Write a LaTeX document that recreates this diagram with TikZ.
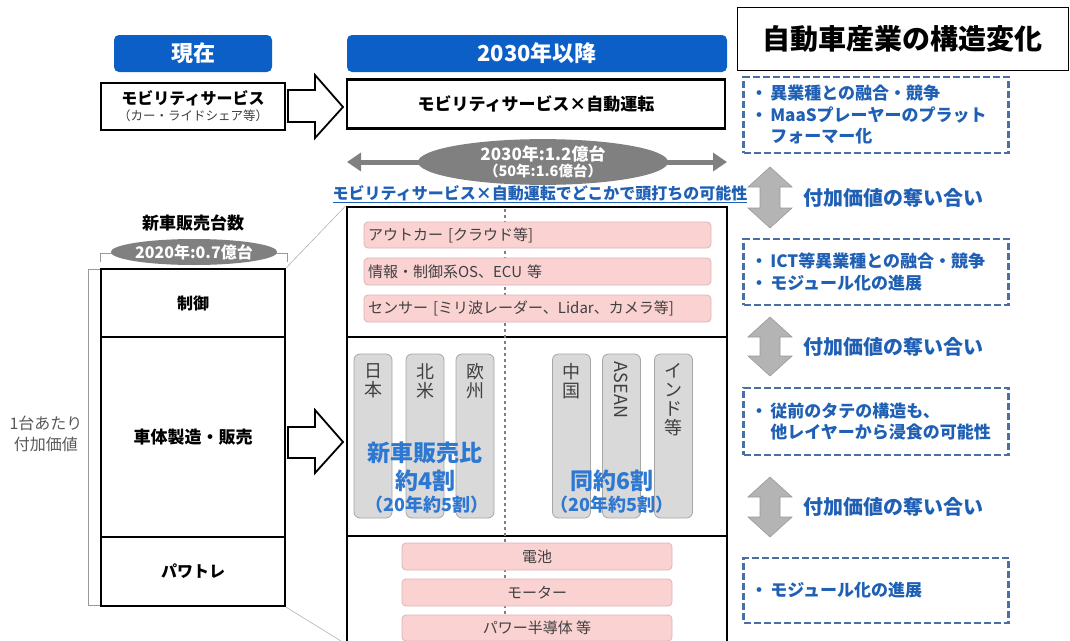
\documentclass[tikz,border=0pt]{standalone}
\usepackage{fontspec}
\setmainfont{Noto Sans CJK JP}
\usetikzlibrary{arrows.meta,shapes.geometric,calc}
\definecolor{hdrblue}{HTML}{0B5FC6}
\definecolor{txtblue}{HTML}{1F5FB4}
\definecolor{brtblue}{HTML}{2E78D2}
\definecolor{dashblue}{HTML}{4A6FA5}
\definecolor{pinkfill}{HTML}{FAD2D2}
\definecolor{pinkline}{HTML}{E0B4B4}
\definecolor{pillfill}{HTML}{D9D9D9}
\definecolor{pillline}{HTML}{A6A6A6}
\definecolor{arrgray}{HTML}{B4B4B4}
\definecolor{arrline}{HTML}{999999}
\definecolor{ellgray}{HTML}{808080}
\definecolor{txtgray}{HTML}{404040}
\definecolor{lblgray}{HTML}{595959}
\newcommand\fsz[2]{\fontsize{#1}{#2}\selectfont}
\tikzset{
  hdr/.style={fill=hdrblue, rounded corners=5pt, text=white, font=\bfseries\fsz{22}{24}, inner sep=0pt},
  thickbox/.style={draw=black, line width=2.5pt, fill=white, inner sep=0pt, align=center},
  blockarrow/.style={draw=black, line width=1.8pt, fill=white, line join=miter},
  pinkbox/.style={fill=pinkfill, draw=pinkline, rounded corners=4pt, line width=0.8pt, text=txtgray, font=\fsz{15}{18}, inner sep=0pt},
  pill/.style={fill=pillfill, draw=pillline, rounded corners=6pt, line width=0.8pt, minimum width=38pt, minimum height=164pt, inner sep=0pt},
  pilltext/.style={text=txtgray, font=\fsz{18}{19}, align=center, inner sep=0pt, anchor=north},
  bigblue/.style={text=brtblue, font=\bfseries\fsz{23}{28}, align=center, inner sep=0pt},
  smallblue/.style={text=brtblue, font=\bfseries\fsz{18}{20}, inner sep=0pt},
  dbox/.style={draw=dashblue, dash pattern=on 7pt off 3pt, line width=2.2pt, text=txtblue, font=\bfseries\fsz{17}{21.5}, align=left, minimum width=265pt, text width=251pt, inner xsep=7pt, inner ysep=0pt},
  vdarrow/.style={fill=arrgray, draw=arrline, line width=0.6pt},
  fightlbl/.style={text=txtblue, font=\bfseries\fsz{20}{24}, anchor=west, inner sep=0pt},
  ellnode/.style={ellipse, fill=ellgray, text=white, inner sep=0pt, align=center},
  graytxt/.style={text=lblgray, font=\fsz{16}{21}, align=center, inner sep=0pt},
  bracket/.style={draw=gray!80, line width=0.8pt},
  thinline/.style={draw=gray!60, line width=0.6pt}
}
\begin{document}
\begin{tikzpicture}[x=1pt,y=-1pt]
\useasboundingbox (0,0) rectangle (1070,640);
\clip (0,0) rectangle (1070,640);

% headers
\node[hdr, minimum width=158pt, minimum height=37pt] (h1) at (193,53.5) {現在};
\node[hdr, minimum width=380pt, minimum height=37pt] (h2) at (537,53.5) {2030年以降};
\node[draw=black, line width=0.8pt, minimum width=331pt, minimum height=63pt, inner sep=0pt, font=\bfseries\fsz{28}{32}] (title) at (902.5,38.5) {自動車産業の構造変化};

% mobility row
\node[thickbox, minimum width=184pt, minimum height=47pt] (ms) at (193,106.5)
  {{\bfseries\fsz{16}{20}モビリティサービス}\\[3pt]{\color{txtgray}\fsz{12.5}{15}（カー・ライドシェア等）}};
\node[thickbox, minimum width=378pt, minimum height=49pt, font=\bfseries\fsz{17}{20}] (msad) at (536,104) {モビリティサービス×自動運転};
\draw[blockarrow] (288,90) -- (315,90) -- (315,75) -- (343,107) -- (315,138) -- (315,122) -- (288,122) -- cycle;

% 2030 volume
\coordinate (gl) at (347,162);
\coordinate (gr) at (727,162);
\draw[draw=ellgray, line width=5pt, {Triangle[length=14pt,width=18pt]}-{Triangle[length=14pt,width=18pt]}] (gl) -- (gr);
\node[ellnode, minimum width=250pt, minimum height=42pt] (e1) at (543,162)
  {{\bfseries\fsz{17}{19}2030年:1.2億台}\\[1pt]{\bfseries\fsz{14.5}{16}（50年:1.6億台）}};
\node[text=txtblue, font=\bfseries\fsz{16}{18}, inner sep=0pt] (link) at (540,194) {\underline{モビリティサービス×自動運転でどこかで頭打ちの可能性}};

% left column
\node[font=\bfseries\fsz{17}{20}, inner sep=0pt] (nsd) at (193,223) {新車販売台数};
\draw[bracket] (100,262) -- (100,253) -- (287,253) -- (287,262);
\node[ellnode, minimum width=165pt, minimum height=26pt, font=\bfseries\fsz{16}{18}] (e2) at (194,252) {2020年:0.7億台};

\node[thickbox, minimum width=184pt, minimum height=68pt, font=\bfseries\fsz{16}{20}] (ctrl) at (193,303) {制御};
\node[thickbox, minimum width=184pt, minimum height=200pt, font=\bfseries\fsz{17}{20}] (body) at (193,437) {車体製造・販売};
\node[thickbox, minimum width=184pt, minimum height=69pt, font=\bfseries\fsz{16}{20}] (pt) at (193,571.5) {パワトレ};
\draw[bracket] (100,269) -- (88,269) -- (88,605) -- (100,605);
\node[graytxt] (per) at (46,434) {1台あたり\\付加価値};

% right stack
\node[thickbox, minimum width=380pt, minimum height=130pt] (rtop) at (537,272) {};
\node[thickbox, minimum width=380pt, minimum height=199pt] (rmid) at (537,436.5) {};
\node[thickbox, minimum width=380pt, minimum height=108pt] (rbot) at (537,590) {};
\coordinate (dtop) at (505,209);
\coordinate (dbot) at (505,640);
\draw[draw=gray, dashed, line width=1.3pt] (dtop) -- (dbot);

\coordinate (bl) at (341,641);
\draw[thinline] (ctrl.north east) -- (rtop.north west);
\draw[thinline] (pt.south east) -- (bl);

% pink boxes top
\node[pinkbox, minimum width=347pt, minimum height=26pt, text width=339pt, inner xsep=4pt, align=left] (p1) at (537.5,235) {アウトカー [クラウド等]};
\node[pinkbox, minimum width=347pt, minimum height=27pt, text width=339pt, inner xsep=4pt, align=left] (p2) at (537.5,271.5) {情報・制御系OS、ECU 等};
\node[pinkbox, minimum width=347pt, minimum height=27pt, text width=339pt, inner xsep=4pt, align=left] (p3) at (537.5,308.5) {センサー [ミリ波レーダー、Lidar、カメラ等]};

% pink boxes bottom
\node[pinkbox, minimum width=270pt, minimum height=27pt] (b1) at (537,556.5) {電池};
\node[pinkbox, minimum width=270pt, minimum height=27pt] (b2) at (537,592.5) {モーター};
\node[pinkbox, minimum width=270pt, minimum height=26pt] (b3) at (537,628) {パワー半導体 等};

% pills
\node[pill] (jp) at (373,436) {};
\node[pill] (na) at (425,436) {};
\node[pill] (eu) at (475,436) {};
\node[pill] (cn) at (571.5,436) {};
\node[pill] (as) at (621.5,436) {};
\node[pill] (in) at (673.5,436) {};
\node[pilltext] (tjp) at ($(jp.north)+(0,10)$) {日\\本};
\node[pilltext] (tna) at ($(na.north)+(0,10)$) {北\\米};
\node[pilltext] (teu) at ($(eu.north)+(0,10)$) {欧\\州};
\node[pilltext] (tcn) at ($(cn.north)+(0,10)$) {中\\国};
\node[text=txtgray, font=\fsz{18}{19}, inner sep=0pt, rotate=-90, anchor=west] (tas) at ($(as.north)+(0,8)$) {ASEAN};
\node[pilltext] (tin) at ($(in.north)+(0,10)$) {イ\\ン\\ド\\等};

\node[bigblue] (s1) at (425,467) {新車販売比\\約4割};
\node[smallblue] (s1b) at (427,505) {（20年約5割）};
\node[bigblue] (s2) at (612,481) {同約6割};
\node[smallblue] (s2b) at (612,505) {（20年約5割）};

\draw[blockarrow] (288,427) -- (315,427) -- (315,410) -- (343,442) -- (315,473) -- (315,458) -- (288,458) -- cycle;

% right column
\node[dbox, minimum height=76pt] (d1) at (876,115) {・\,異業種との融合・競争\\・\,MaaSプレーヤーのプラット\\\hphantom{・\,}フォーマー化};
\node[dbox, minimum height=66pt] (d2) at (876,272) {・\,ICT等異業種との融合・競争\\・\,モジュール化の進展};
\node[dbox, minimum height=67pt] (d3) at (876,421.5) {・\,従前のタテの構造も、\\\hphantom{・\,}他レイヤーから浸食の可能性};
\node[dbox, minimum height=65pt] (d4) at (876,590.5) {・\,モジュール化の進展};

\foreach \ya/\yb/\nm in {167/228/1, 317/376/2, 477/537/3}{
  \draw[vdarrow] (770,\ya) -- (792,\ya+20) -- (780,\ya+20) -- (780,\yb-20) -- (792,\yb-20) -- (770,\yb) -- (748,\yb-20) -- (760,\yb-20) -- (760,\ya+20) -- (748,\ya+20) -- cycle;
}
\node[fightlbl] (f1) at (803,198) {付加価値の奪い合い};
\node[fightlbl] (f2) at (803,347) {付加価値の奪い合い};
\node[fightlbl] (f3) at (803,507) {付加価値の奪い合い};
\end{tikzpicture}
\end{document}
